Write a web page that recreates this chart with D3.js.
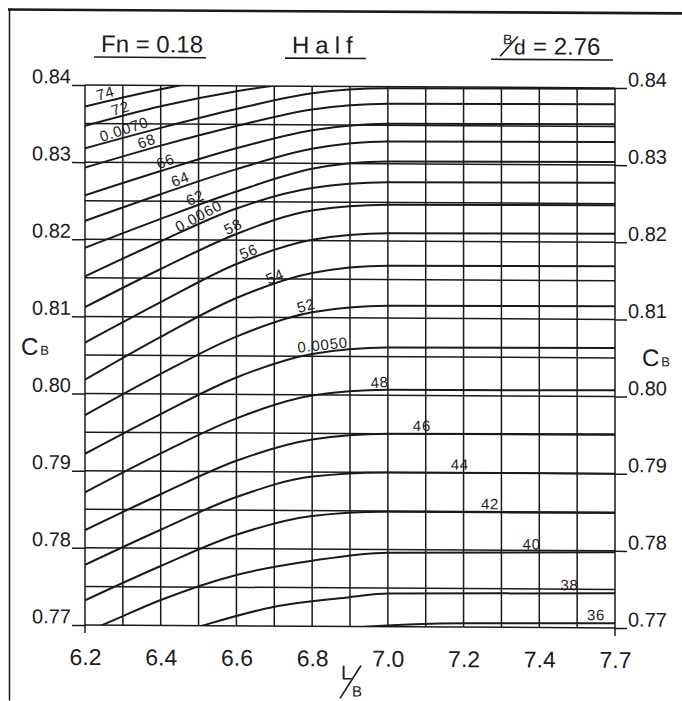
<!DOCTYPE html>
<html>
<head>
<meta charset="utf-8">
<script src="https://cdn.jsdelivr.net/npm/d3@7/dist/d3.min.js"></script>
<style>
  html, body { margin: 0; padding: 0; background: #ffffff; }
  svg { display: block; }
  text { font-family: "Liberation Sans", Arial, sans-serif; fill: #1c1c1c; }
</style>
</head>
<body>
<svg id="chart" width="682" height="701"></svg>
<script>
// ---- axis ticks ----
const lbTicks = [6.2, 6.4, 6.6, 6.8, 7.0, 7.2, 7.4, 7.6];
const lbTickLabels = ["6.2", "6.4", "6.6", "6.8", "7.0", "7.2", "7.4", "7.7"];
const cbTicks = [0.77, 0.78, 0.79, 0.80, 0.81, 0.82, 0.83, 0.84];

// ---- contour levels ----
const levels = [0.0074, 0.0072, 0.0070, 0.0068, 0.0066, 0.0064, 0.0062, 0.0060, 0.0058, 0.0056,
                0.0054, 0.0052, 0.0050, 0.0048, 0.0046, 0.0044, 0.0042, 0.0040, 0.0038, 0.0036];
const levelLabels = ["74", "72", "0.0070", "68", "66", "64", "62", "0.0060", "58", "56",
                     "54", "52", "0.0050", "48", "46", "44", "42", "40", "38", "36"];
// L/B at which each level is annotated
const labelAt = [6.26, 6.30, 6.31, 6.37, 6.42, 6.46, 6.50, 6.51, 6.60, 6.64,
                 6.71, 6.79, 6.83, 6.98, 7.09, 7.19, 7.27, 7.38, 7.48, 7.55];

// ---- contour points: L/B stations and CB values ----
const lbStd = [6.2, 6.4, 6.6, 6.8, 7.0, 7.6];
const lb74 = [6.2, 6.3, 6.4, 6.5];
const cb74 = [0.8372, 0.8384, 0.8395, 0.8405];
const lb72 = [6.2, 6.4, 6.6, 6.8];
const cb72 = [0.8347, 0.8373, 0.8393, 0.8407];
const cb70 = [0.8318, 0.8345, 0.8370, 0.8391, 0.8398, 0.8399];
const cb68 = [0.8293, 0.8322, 0.8348, 0.8370, 0.8378, 0.8379];
const cb66 = [0.8257, 0.8289, 0.8319, 0.8343, 0.8352, 0.8353];
const cb64 = [0.8224, 0.8259, 0.8292, 0.8319, 0.8329, 0.8330];
const cb62 = [0.8189, 0.8227, 0.8263, 0.8293, 0.8303, 0.8304];
const cb60 = [0.8152, 0.8198, 0.8241, 0.8268, 0.8276, 0.8277];
const cb58 = [0.8112, 0.8162, 0.8208, 0.8239, 0.8247, 0.8248];
const cb56 = [0.8066, 0.8119, 0.8169, 0.8201, 0.8210, 0.8211];
const cb54 = [0.8018, 0.8074, 0.8125, 0.8158, 0.8168, 0.8169];
const cb52 = [0.7972, 0.8026, 0.8075, 0.8107, 0.8116, 0.8117];
const cb50 = [0.7922, 0.7974, 0.8022, 0.8053, 0.8062, 0.8063];
const cb48 = [0.7872, 0.7923, 0.7969, 0.7999, 0.8007, 0.8008];
const cb46 = [0.7823, 0.7870, 0.7914, 0.7942, 0.7950, 0.7951];
const cb44 = [0.7778, 0.7824, 0.7867, 0.7894, 0.7900, 0.7900];
const cb42 = [0.7732, 0.7777, 0.7818, 0.7843, 0.7849, 0.7849];
const lb40 = [6.2, 6.245, 6.4, 6.6, 6.8, 7.0, 7.6];
const cb40 = [0.7691, 0.7700, 0.7733, 0.7766, 0.7785, 0.7796, 0.7798];
const lb38 = [6.4, 6.51, 6.7, 6.9, 7.0, 7.6];
const cb38 = [0.7683, 0.7700, 0.7725, 0.7738, 0.7743, 0.7745];
const lb36 = [6.8, 6.95, 7.2, 7.6];
const cb36 = [0.7693, 0.7700, 0.7705, 0.7706];

const contourLB = [lb74, lb72, lbStd, lbStd, lbStd, lbStd, lbStd, lbStd, lbStd, lbStd,
                   lbStd, lbStd, lbStd, lbStd, lbStd, lbStd, lbStd, lb40, lb38, lb36];
const contourCB = [cb74, cb72, cb70, cb68, cb66, cb64, cb62, cb60, cb58, cb56,
                   cb54, cb52, cb50, cb48, cb46, cb44, cb42, cb40, cb38, cb36];

// ---- drawing ----
const INK = "#1a1a1a";
const svg = d3.select("#chart");
const root = svg.append("g")
  .attr("transform", "translate(85,0) skewY(0.32) translate(-85,0)");

const x = d3.scaleLinear().domain([6.2, 7.6]).range([85, 615]);
const y = d3.scaleLinear().domain([0.77, 0.84]).range([625, 85]);

// sheet frame
root.append("line").attr("x1", 8).attr("x2", 682).attr("y1", 10).attr("y2", 10)
  .attr("stroke", INK).attr("stroke-width", 2.6);
root.append("line").attr("x1", 9.5).attr("x2", 9.5).attr("y1", 9).attr("y2", 701)
  .attr("stroke", INK).attr("stroke-width", 1.5);

// grid
const grid = root.append("g").attr("stroke", INK).attr("stroke-width", 1.5);
grid.selectAll("line.v").data(x.ticks(14)).join("line").attr("class", "v")
  .attr("x1", d => x(d)).attr("x2", d => x(d))
  .attr("y1", y(0.84)).attr("y2", y(0.77));
grid.selectAll("line.h").data(y.ticks(14)).join("line").attr("class", "h")
  .attr("x1", x(6.2)).attr("x2", x(7.6))
  .attr("y1", d => y(d)).attr("y2", d => y(d));
// border lines run slightly past the bottom edge
grid.selectAll("line.ext").data([6.2, 7.6]).join("line").attr("class", "ext")
  .attr("x1", d => x(d)).attr("x2", d => x(d))
  .attr("y1", y(0.77)).attr("y2", y(0.77) + 8);

// axes
const fmt = d3.format(".2f");
const axL = root.append("g").attr("transform", `translate(${x(6.2)},0)`)
  .call(d3.axisLeft(y).tickValues(cbTicks).tickSize(13).tickPadding(1).tickFormat(fmt));
const axR = root.append("g").attr("transform", `translate(${x(7.6)},0)`)
  .call(d3.axisRight(y).tickValues(cbTicks).tickSize(12).tickPadding(1).tickFormat(fmt));
[axL, axR].forEach(a => {
  a.attr("font-family", null).attr("font-size", null);
  a.select(".domain").remove();
  a.selectAll(".tick line").attr("stroke", INK).attr("stroke-width", 1.5);
  a.selectAll(".tick text").attr("dy", -2).attr("font-size", 20).attr("fill", INK);
});
const axB = root.append("g").attr("transform", `translate(0,${y(0.77)})`)
  .call(d3.axisBottom(x).tickValues(lbTicks).tickSize(0).tickPadding(0)
    .tickFormat((d, i) => lbTickLabels[i]));
axB.attr("font-family", null).attr("font-size", null);
axB.select(".domain").remove();
axB.selectAll(".tick text").attr("y", 40).attr("dy", 0).attr("font-size", 23).attr("fill", INK);

// contours
const clipId = "plotArea";
root.append("clipPath").attr("id", clipId).append("rect")
  .attr("x", x(6.2)).attr("y", y(0.84)).attr("width", x(7.6) - x(6.2)).attr("height", y(0.77) - y(0.84));
const line = d3.line().x(d => x(d[0])).y(d => y(d[1])).curve(d3.curveMonotoneX);
const contours = root.append("g").attr("clip-path", `url(#${clipId})`)
  .attr("fill", "none").attr("stroke", INK).attr("stroke-width", 2);
const labelG = root.append("g");
levels.forEach((lv, i) => {
  const pts = contourLB[i].map((l, j) => [l, contourCB[i][j]]);
  contours.append("path").attr("d", line(pts));
  const along = d3.scaleLinear().domain(contourLB[i]).range(contourCB[i]);
  const l0 = labelAt[i];
  const px = x(l0), py = y(along(l0));
  const ang = Math.atan2(y(along(l0 + 0.03)) - y(along(l0 - 0.03)), x(l0 + 0.03) - x(l0 - 0.03)) * 180 / Math.PI;
  labelG.append("text")
    .attr("transform", `translate(${px},${py}) rotate(${ang * 1.2})`)
    .attr("dy", -3).attr("text-anchor", "middle")
    .attr("font-size", 15).attr("letter-spacing", 0.8)
    .text(levelLabels[i]);
});

// headings
const head = root.append("g");
function underline(x1, x2, yy) {
  head.append("line").attr("x1", x1).attr("x2", x2).attr("y1", yy).attr("y2", yy)
    .attr("stroke", INK).attr("stroke-width", 1.6);
}
head.append("text").attr("x", 101).attr("y", 52).attr("font-size", 24).text("Fn = 0.18");
underline(94, 206, 57);
head.append("text").attr("x", 292).attr("y", 52).attr("font-size", 24).attr("letter-spacing", 6).text("Half");
underline(285, 366, 57);
head.append("text").attr("x", 503).attr("y", 42).attr("font-size", 14).text("B");
head.append("line").attr("x1", 500).attr("y1", 54).attr("x2", 518).attr("y2", 34)
  .attr("stroke", INK).attr("stroke-width", 1.5);
head.append("text").attr("x", 514).attr("y", 52).attr("font-size", 21).text("d");
head.append("text").attr("x", 533).attr("y", 52).attr("font-size", 24).text("= 2.76");
underline(491, 613, 57);

// axis names: CB on both sides, L/B below
function cbName(xc, yb) {
  const t = root.append("text").attr("x", xc).attr("y", yb).attr("font-size", 24);
  t.append("tspan").text("C");
  t.append("tspan").attr("font-size", 13).attr("dx", 2).text("B");
}
cbName(21, 355);
cbName(642, 363);
root.append("text").attr("x", 341).attr("y", 678).attr("font-size", 20).text("L");
root.append("line").attr("x1", 340).attr("y1", 697).attr("x2", 361).attr("y2", 664)
  .attr("stroke", INK).attr("stroke-width", 1.6);
root.append("text").attr("x", 352).attr("y", 695).attr("font-size", 15).text("B");
</script>
</body>
</html>
